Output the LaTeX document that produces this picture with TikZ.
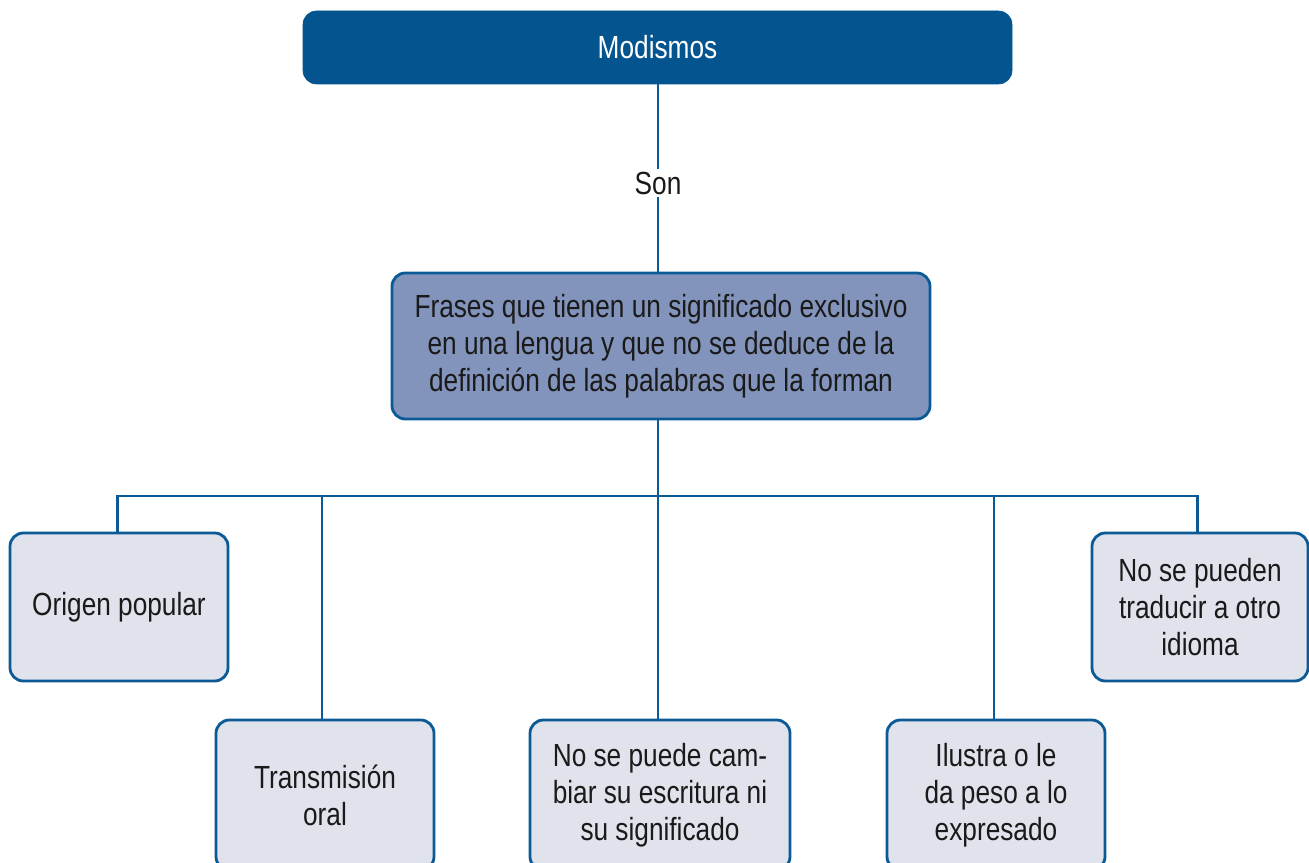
\documentclass[tikz,border=0pt]{standalone}
\usepackage{fontspec}
\setmainfont{Liberation Sans}[FakeStretch=0.82]
\definecolor{darkblue}{HTML}{04548F}
\definecolor{edgeblue}{HTML}{0B5A96}
\definecolor{midfill}{HTML}{8294BC}
\definecolor{lightfill}{HTML}{E0E3EC}
\definecolor{txt}{HTML}{1A1A1A}
\begin{document}
\begin{tikzpicture}[x=0.75pt,y=-0.75pt,
  every node/.style={font=\fontsize{24}{27.75}\selectfont, text=txt, align=center, inner sep=0pt},
  basebox/.style={draw=edgeblue, line width=2.1pt, rounded corners=10pt},
  topbox/.style={fill=darkblue, draw=darkblue, rounded corners=10pt, text=white, minimum width=531.75pt, minimum height=54.75pt},
  midbox/.style={basebox, fill=midfill, minimum width=403.5pt, minimum height=109.5pt},
  leafbox/.style={basebox, fill=lightfill, minimum width=163.5pt, minimum height=111pt},
  lowbox/.style={basebox, fill=lightfill, minimum width=163.5pt, minimum height=112.5pt},
  conn/.style={draw=edgeblue, line width=1.8pt}]
\clip (0,0) rectangle (1309,863);
\node[topbox] (mod) at (657.5,47.5) {Modismos};
\node[fill=white, inner sep=2pt] (son) at (658,183) {Son};
\node[midbox] (mid) at (661,346) {Frases que tienen un significado exclusivo\\en una lengua y que no se deduce de la\\definición de las palabras que la forman};
\node[leafbox] (b1) at (119,607) {Origen popular};
\node[lowbox] (b2) at (325,795) {Transmisión\\oral};
\node[lowbox, minimum width=195pt] (b3) at (660,795) {No se puede cam-\\biar su escritura ni\\su significado};
\node[lowbox] (b4) at (996,795) {Ilustra o le\\da peso a lo\\expresado};
\node[leafbox, minimum width=162pt] (b5) at (1200,607) {No se pueden\\traducir a otro\\idioma};
\coordinate (bus) at (659,496);
\draw[conn] (mod.south -| son) -- (son.north);
\draw[conn] (son.south) -- (son |- mid.north);
\draw[conn] (son |- mid.south) -- (son |- bus);
\draw[conn] ([xshift=-1pt]b1.north) -- ([xshift=-1pt]b1.north |- bus) -- ([xshift=-2pt]b5.north |- bus) -- ([xshift=-2pt]b5.north);
\draw[conn] ([xshift=-2.25pt]b2.north) -- ([xshift=-2.25pt]b2.north |- bus);
\draw[conn] (b3.north -| son) -- (son |- bus);
\draw[conn] ([xshift=-1.5pt]b4.north) -- ([xshift=-1.5pt]b4.north |- bus);
\end{tikzpicture}
\end{document}
